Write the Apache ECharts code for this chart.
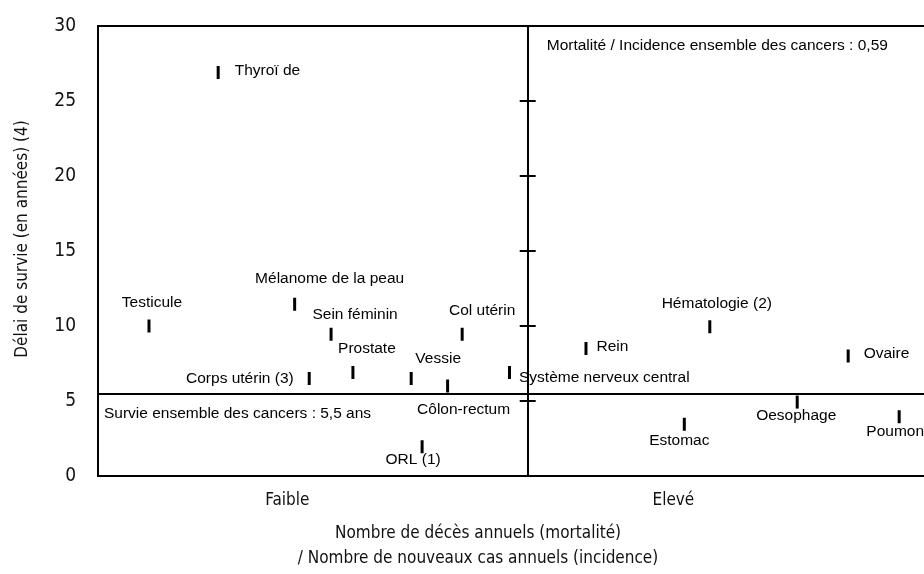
<!DOCTYPE html>
<html>
<head>
<meta charset="utf-8">
<script src="https://cdn.jsdelivr.net/npm/echarts@6/dist/echarts.min.js"></script>
<style>
  html, body { margin: 0; padding: 0; background: #fff; }
  #chart { width: 924px; height: 574px; }
</style>
</head>
<body>
<div id="chart"></div>
<script>
// localisations de cancer
var localisations = ['Thyroï de', 'Testicule', 'Mélanome de la peau', 'Corps utérin (3)', 'Sein féminin',
  'Prostate', 'Vessie', 'Côlon-rectum', 'Col utérin', 'ORL (1)', 'Système nerveux central',
  'Rein', 'Estomac', 'Hématologie (2)', 'Oesophage', 'Ovaire', 'Poumon']
// mortalité / incidence (position horizontale)
var ratioMortInc = [0.165, 0.07, 0.27, 0.29, 0.32, 0.35, 0.43, 0.48, 0.50, 0.445, 0.565,
  0.67, 0.805, 0.84, 0.96, 1.03, 1.10]
// délai de survie (années)
var delaiSurvie = [26.9, 10, 11.45, 6.5, 9.45, 6.9, 6.5, 6.0, 9.45, 1.95, 6.9,
  8.5, 3.45, 9.95, 4.93, 8.0, 3.95]
var yTicks = [0, 5, 10, 15, 20, 25, 30]
var niveauxX = ['Faible', 'Elevé']
var niveauxXPos = [0.26, 0.79]
var refRatio = 0.59
var refSurvie = 5.5

// placement des étiquettes
var placement = {
  'Thyroï de': { position: 'right', distance: 15, offset: [0, -2] },
  'Testicule': { position: 'inside', offset: [3, -23] },
  'Mélanome de la peau': { position: 'inside', offset: [35, -26] },
  'Corps utérin (3)': { position: 'left', distance: 14, offset: [0, 0] },
  'Sein féminin': { position: 'inside', offset: [24, -20] },
  'Prostate': { position: 'inside', offset: [14, -24] },
  'Vessie': { position: 'inside', offset: [27, -20] },
  'Côlon-rectum': { position: 'inside', offset: [16, 24] },
  'Col utérin': { position: 'inside', offset: [20, -24] },
  'ORL (1)': { position: 'inside', offset: [-9, 13] },
  'Système nerveux central': { position: 'right', distance: 8, offset: [0, 5] },
  'Rein': { position: 'right', distance: 9, offset: [0, -2] },
  'Estomac': { position: 'inside', offset: [-5, 16] },
  'Hématologie (2)': { position: 'inside', offset: [7, -23] },
  'Oesophage': { position: 'inside', offset: [-1, 14] },
  'Ovaire': { position: 'right', distance: 14, offset: [0, -2] },
  'Poumon': { position: 'inside', offset: [-4, 15] }
}

var axisFont = "'DejaVu Sans Condensed', sans-serif"
var labelFont = "'Liberation Sans', Arial, sans-serif"
var gridLeft = 98
var gridWidth = 874
var xMin = 0
var xMax = 1.2
var midOffset = -gridWidth * (refRatio - xMin) / (xMax - xMin)

var points = localisations.map(function(name, i) {
  var p = placement[name]
  return {
    name: name,
    value: [ratioMortInc[i], delaiSurvie[i]],
    label: {
      show: true,
      position: p.position,
      distance: p.distance || 0,
      offset: p.offset
    }
  }
})

var chart = echarts.init(document.getElementById('chart'))
chart.setOption({
  animation: false,
  grid: {
    left: gridLeft,
    top: 26,
    width: gridWidth,
    height: 450,
    outerBoundsMode: 'none',
    show: true,
    borderColor: '#000',
    borderWidth: 2
  },
  xAxis: {
    type: 'value',
    min: xMin,
    max: xMax,
    splitLine: { show: false },
    axisTick: { show: false },
    axisLine: { lineStyle: { color: '#000', width: 2 } },
    axisLabel: {
      customValues: niveauxXPos,
      margin: 16,
      color: '#111',
      fontFamily: axisFont,
      fontSize: 17,
      formatter: function(v) {
        var i = niveauxXPos.indexOf(v)
        return i >= 0 ? niveauxX[i] : ''
      }
    },
    name: 'Nombre de décès annuels (mortalité)\n/ Nombre de nouveaux cas annuels (incidence)',
    nameLocation: 'middle',
    nameGap: 45,
    nameTextStyle: {
      color: '#111',
      fontFamily: axisFont,
      fontSize: 17,
      lineHeight: 25,
      padding: [0, 114, 0, 0]
    }
  },
  yAxis: [
    {
      type: 'value',
      min: yTicks[0],
      max: yTicks[yTicks.length - 1],
      interval: 5,
      splitLine: { show: false },
      axisTick: { show: false },
      axisLine: { show: true, lineStyle: { color: '#000', width: 2 } },
      axisLabel: { margin: 22, color: '#111', fontFamily: axisFont, fontSize: 19 },
      name: 'Délai de survie (en années) (4)',
      nameLocation: 'middle',
      nameGap: 67,
      nameTextStyle: { color: '#111', fontFamily: axisFont, fontSize: 17, padding: [0, 0, 0, 24] }
    },
    {
      type: 'value',
      min: yTicks[0],
      max: yTicks[yTicks.length - 1],
      interval: 5,
      position: 'left',
      offset: midOffset,
      splitLine: { show: false },
      axisLabel: { show: false },
      axisLine: { show: true, lineStyle: { color: '#000', width: 2 } },
      axisTick: { show: true, length: 8, lineStyle: { color: '#000', width: 2 } }
    },
    {
      type: 'value',
      min: yTicks[0],
      max: yTicks[yTicks.length - 1],
      interval: 5,
      position: 'left',
      offset: midOffset,
      splitLine: { show: false },
      axisLabel: { show: false },
      axisLine: { show: false },
      axisTick: { show: true, inside: true, length: 8, lineStyle: { color: '#000', width: 2 } }
    }
  ],
  series: [
    {
      type: 'scatter',
      symbol: 'rect',
      symbolSize: [3, 13],
      itemStyle: { color: '#000', opacity: 1 },
      label: {
        formatter: '{b}',
        color: '#000',
        fontFamily: labelFont,
        fontSize: 15.5
      },
      data: points,
      markLine: {
        silent: true,
        symbol: 'none',
        label: { show: false },
        lineStyle: { color: '#000', width: 2, type: 'solid' },
        data: [{ yAxis: refSurvie }]
      },
      markPoint: {
        silent: true,
        symbol: 'rect',
        symbolSize: 0,
        label: {
          show: true,
          position: 'inside',
          align: 'left',
          color: '#000',
          fontFamily: labelFont,
          fontSize: 15.5
        },
        data: [
          {
            coord: [refRatio, yTicks[yTicks.length - 1]],
            label: { formatter: 'Mortalité / Incidence ensemble des cancers : 0,59', offset: [19, 20] }
          },
          {
            coord: [xMin, refSurvie],
            label: { formatter: 'Survie ensemble des cancers : 5,5 ans', offset: [6, 20] }
          }
        ]
      }
    }
  ]
})
</script>
</body>
</html>
